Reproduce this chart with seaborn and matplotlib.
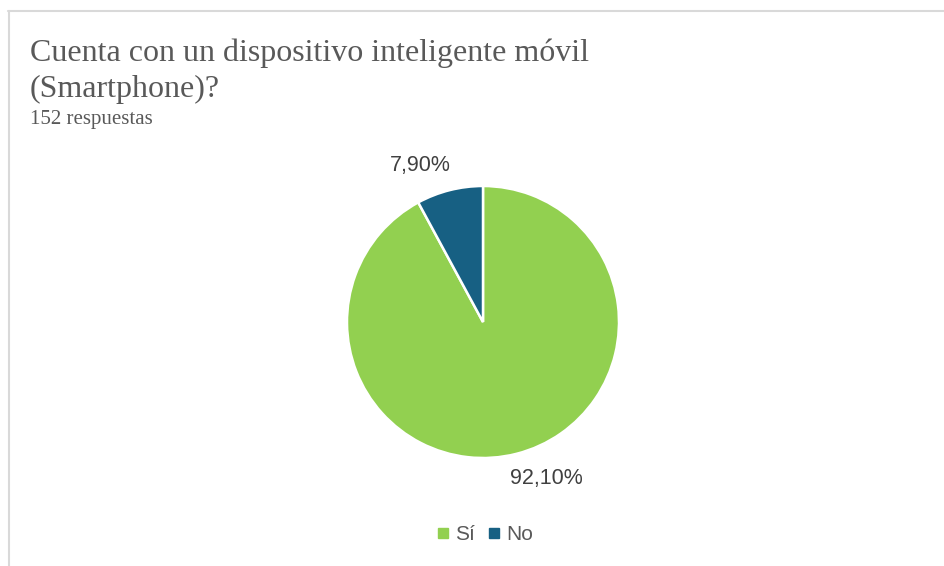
import numpy as np
import matplotlib
matplotlib.use("Agg")
import matplotlib.pyplot as plt
import seaborn as sns

# Survey answers (share of 152 respondents, %)
categories = ["Sí", "No"]
shares = [92.10, 7.90]
slice_colors = ["#92D050", "#176083"]
pct_labels = ["92,10%", "7,90%"]

title_lines = ["Cuenta con un dispositivo inteligente móvil", "(Smartphone)?"]
subtitle = "152 respuestas"

sns.set_theme(style="white")
plt.rcParams["font.family"] = ["Liberation Sans", "DejaVu Sans"]

W, H = 944, 566
fig = plt.figure(figsize=(W / 100, H / 100), dpi=100)
fig.patch.set_facecolor("white")

# light frame lines at top and left
fig.add_artist(plt.Line2D([8 / W, 1], [1 - 10.5 / H, 1 - 10.5 / H],
                          color="#D9D9D9", lw=1.5, transform=fig.transFigure))
fig.add_artist(plt.Line2D([8.5 / W, 8.5 / W], [0, 1 - 10.5 / H],
                          color="#D9D9D9", lw=1.5, transform=fig.transFigure))

# title lines and subtitle
for line, base in zip(title_lines, [61, 97]):
    fig.text(30 / W, 1 - base / H, line, ha="left", va="baseline",
             fontsize=23, color="#595959", family="Liberation Serif")
fig.text(30 / W, 1 - 124 / H, subtitle, ha="left", va="baseline",
         fontsize=15, color="#595959", family="Liberation Serif")

# pie
cx, cy, r = 483, H - 322, 136
ax = fig.add_axes([(cx - r) / W, (cy - r) / H, 2 * r / W, 2 * r / H])
wedges, _ = ax.pie(shares, colors=slice_colors, startangle=90, counterclock=False,
                   wedgeprops=dict(edgecolor="white", linewidth=1.8))
ax.set_xlim(-1, 1)
ax.set_ylim(-1, 1)
ax.set_aspect("auto")
ax.axis("off")

for w, lab in zip(wedges, pct_labels):
    mid = np.deg2rad((w.theta1 + w.theta2) / 2)
    x = 1.19 * np.cos(mid)
    y = 1.19 * np.sin(mid)
    x += 0.17 * np.sign(x)
    ax.text(x, y, lab, ha="center", va="center", fontsize=15.5, color="#404040",
            clip_on=False)

# legend
handles = [plt.Line2D([], [], marker="s", ls="", color=c, markersize=6.5) for c in slice_colors]
fig.legend(handles, categories, loc="center", bbox_to_anchor=(483 / W, 1 - 535 / H),
           ncol=2, frameon=False, fontsize=15, labelcolor="#595959",
           handletextpad=0.1, columnspacing=0.4, handlelength=1.0)

fig.savefig("out.png", dpi=100, facecolor="white")
